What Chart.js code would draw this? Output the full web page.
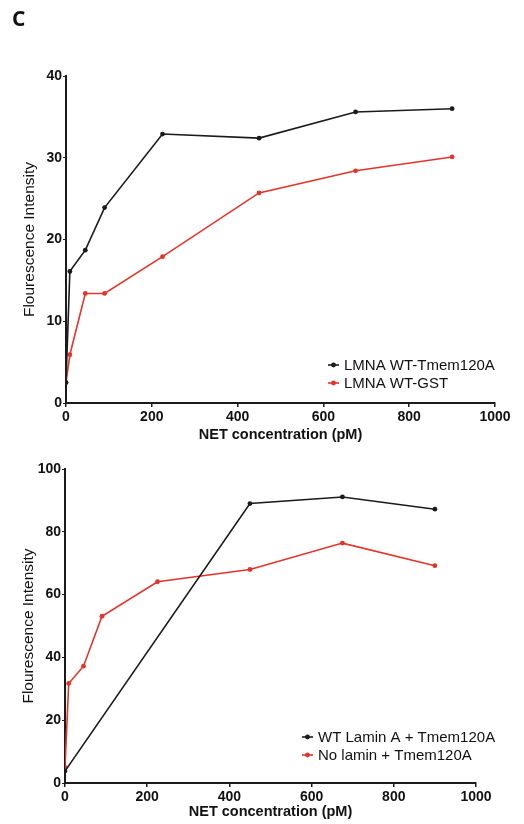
<!DOCTYPE html>
<html>
<head>
<meta charset="utf-8">
<script src="https://cdn.jsdelivr.net/npm/chart.js@4/dist/chart.umd.min.js"></script>
<style>
  body { margin: 0; background: #fff; width: 524px; height: 824px; position: relative; overflow: hidden; }
  #panelLabel { position: absolute; left: 12px; top: 4px; font: bold 21px "Open Sans", sans-serif; color: #111; z-index: 2; }
  #topChart { position: absolute; left: 0; top: 0; }
  #bottomChart { position: absolute; left: 0; top: 445px; }
</style>
</head>
<body>
<div id="panelLabel">C</div>
<canvas id="topChart" width="524" height="445"></canvas>
<canvas id="bottomChart" width="524" height="379"></canvas>
<script>
// --- DATA ---
const conc = [0, 9, 45, 90, 225, 450, 675, 900];
const topBlack = [2.5, 16.1, 18.7, 23.9, 32.9, 32.4, 35.6, 36.0];
const topRed = [2.5, 5.9, 13.4, 13.4, 17.9, 25.7, 28.4, 30.1];
const topLabels = ['LMNA WT-Tmem120A', 'LMNA WT-GST'];

const bottomBlackConc = [0, 450, 675, 900];
const bottomBlack = [3.8, 89.0, 91.1, 87.2];
const bottomRed = [5.0, 31.7, 37.2, 53.1, 64.1, 68.0, 76.4, 69.2];
const bottomLabels = ['WT Lamin A + Tmem120A', 'No lamin + Tmem120A'];

const xTicks = [0, 200, 400, 600, 800, 1000];

const BLACK = '#1b1b1b';
const RED = '#e3342c';

function pts(xs, ys) {
    return xs.map((x, i) => ({ x: x, y: ys[i] }));
}

function series(label, data, color) {
    return {
        label: label, data: data,
        borderColor: color, backgroundColor: color,
        borderWidth: 1.6, pointRadius: 2.4, pointBorderWidth: 0,
        pointBackgroundColor: color, tension: 0
    };
}

// small legend drawn inside the plot, bottom-right like the original figure
const insideLegend = {
    id: 'insideLegend',
    afterDraw(chart, args, opts) {
        const ctx = chart.ctx;
        const a = chart.chartArea;
        ctx.save();
        ctx.font = '15px "Liberation Sans", Arial, sans-serif';
        ctx.textBaseline = 'middle';
        chart.data.datasets.forEach((ds, i) => {
            const y = a.bottom + opts.offsetY + i * 18;
            const x = a.right + opts.offsetX;
            ctx.strokeStyle = ds.borderColor;
            ctx.lineWidth = 1.6;
            ctx.beginPath(); ctx.moveTo(x, y); ctx.lineTo(x + 11, y); ctx.stroke();
            ctx.fillStyle = ds.borderColor;
            ctx.beginPath(); ctx.arc(x + 5.5, y, 2.4, 0, Math.PI * 2); ctx.fill();
            ctx.fillStyle = '#111';
            ctx.fillText(ds.label, x + 16, y + 1);
        });
        ctx.restore();
    }
};

function makeOptions(yMax, yStep, pad, yWidth, xHeight, legend) {
    const tickFont = { family: '"Liberation Sans", Arial, sans-serif', size: 14, weight: 'bold' };
    return {
        responsive: false, animation: false,
        layout: { padding: pad },
        plugins: { legend: { display: false }, tooltip: { enabled: false }, insideLegend: legend },
        scales: {
            x: {
                type: 'linear', min: 0, max: 1000,
                afterBuildTicks: s => { s.ticks = xTicks.map(v => ({ value: v })); },
                afterFit: s => { s.height = xHeight; },
                grid: { display: true, drawOnChartArea: false, tickLength: 4, color: BLACK, lineWidth: 1.5 },
                border: { display: true, color: BLACK, width: 2 },
                ticks: { color: '#111', font: tickFont, padding: 2, maxRotation: 0, callback: v => String(v) },
                title: { display: true, text: 'NET concentration (pM)', color: '#111',
                         font: { family: '"Liberation Sans", Arial, sans-serif', size: 14.5, weight: 'bold' },
                         padding: 0 }
            },
            y: {
                min: 0, max: yMax,
                afterFit: s => { s.width = yWidth; },
                grid: { display: true, drawOnChartArea: false, tickLength: 3, color: BLACK, lineWidth: 1 },
                border: { display: true, color: BLACK, width: 2 },
                ticks: { stepSize: yStep, color: '#111', font: tickFont, padding: 1, callback: v => String(v) },
                title: { display: true, text: 'Flourescence Intensity', color: '#111',
                         font: { family: '"Liberation Sans", Arial, sans-serif', size: 15.5, weight: 'normal' },
                         padding: 0 }
            }
        }
    };
}

new Chart(document.getElementById('topChart'), {
    type: 'line',
    data: {
        datasets: [
            series(topLabels[0], pts(conc, topBlack), BLACK),
            series(topLabels[1], pts(conc, topRed), RED)
        ]
    },
    options: makeOptions(40, 10, { left: 20, right: 29, top: 76, bottom: 1 }, 46, 41,
                         { offsetX: -167, offsetY: -38 }),
    plugins: [insideLegend]
});

new Chart(document.getElementById('bottomChart'), {
    type: 'line',
    data: {
        datasets: [
            series(bottomLabels[0], pts(bottomBlackConc, bottomBlack), BLACK),
            series(bottomLabels[1], pts(conc, bottomRed), RED)
        ]
    },
    options: makeOptions(100, 20, { left: 19, right: 48, top: 24, bottom: 3 }, 46, 38,
                         { offsetX: -174, offsetY: -46 }),
    plugins: [insideLegend]
});
</script>
</body>
</html>
